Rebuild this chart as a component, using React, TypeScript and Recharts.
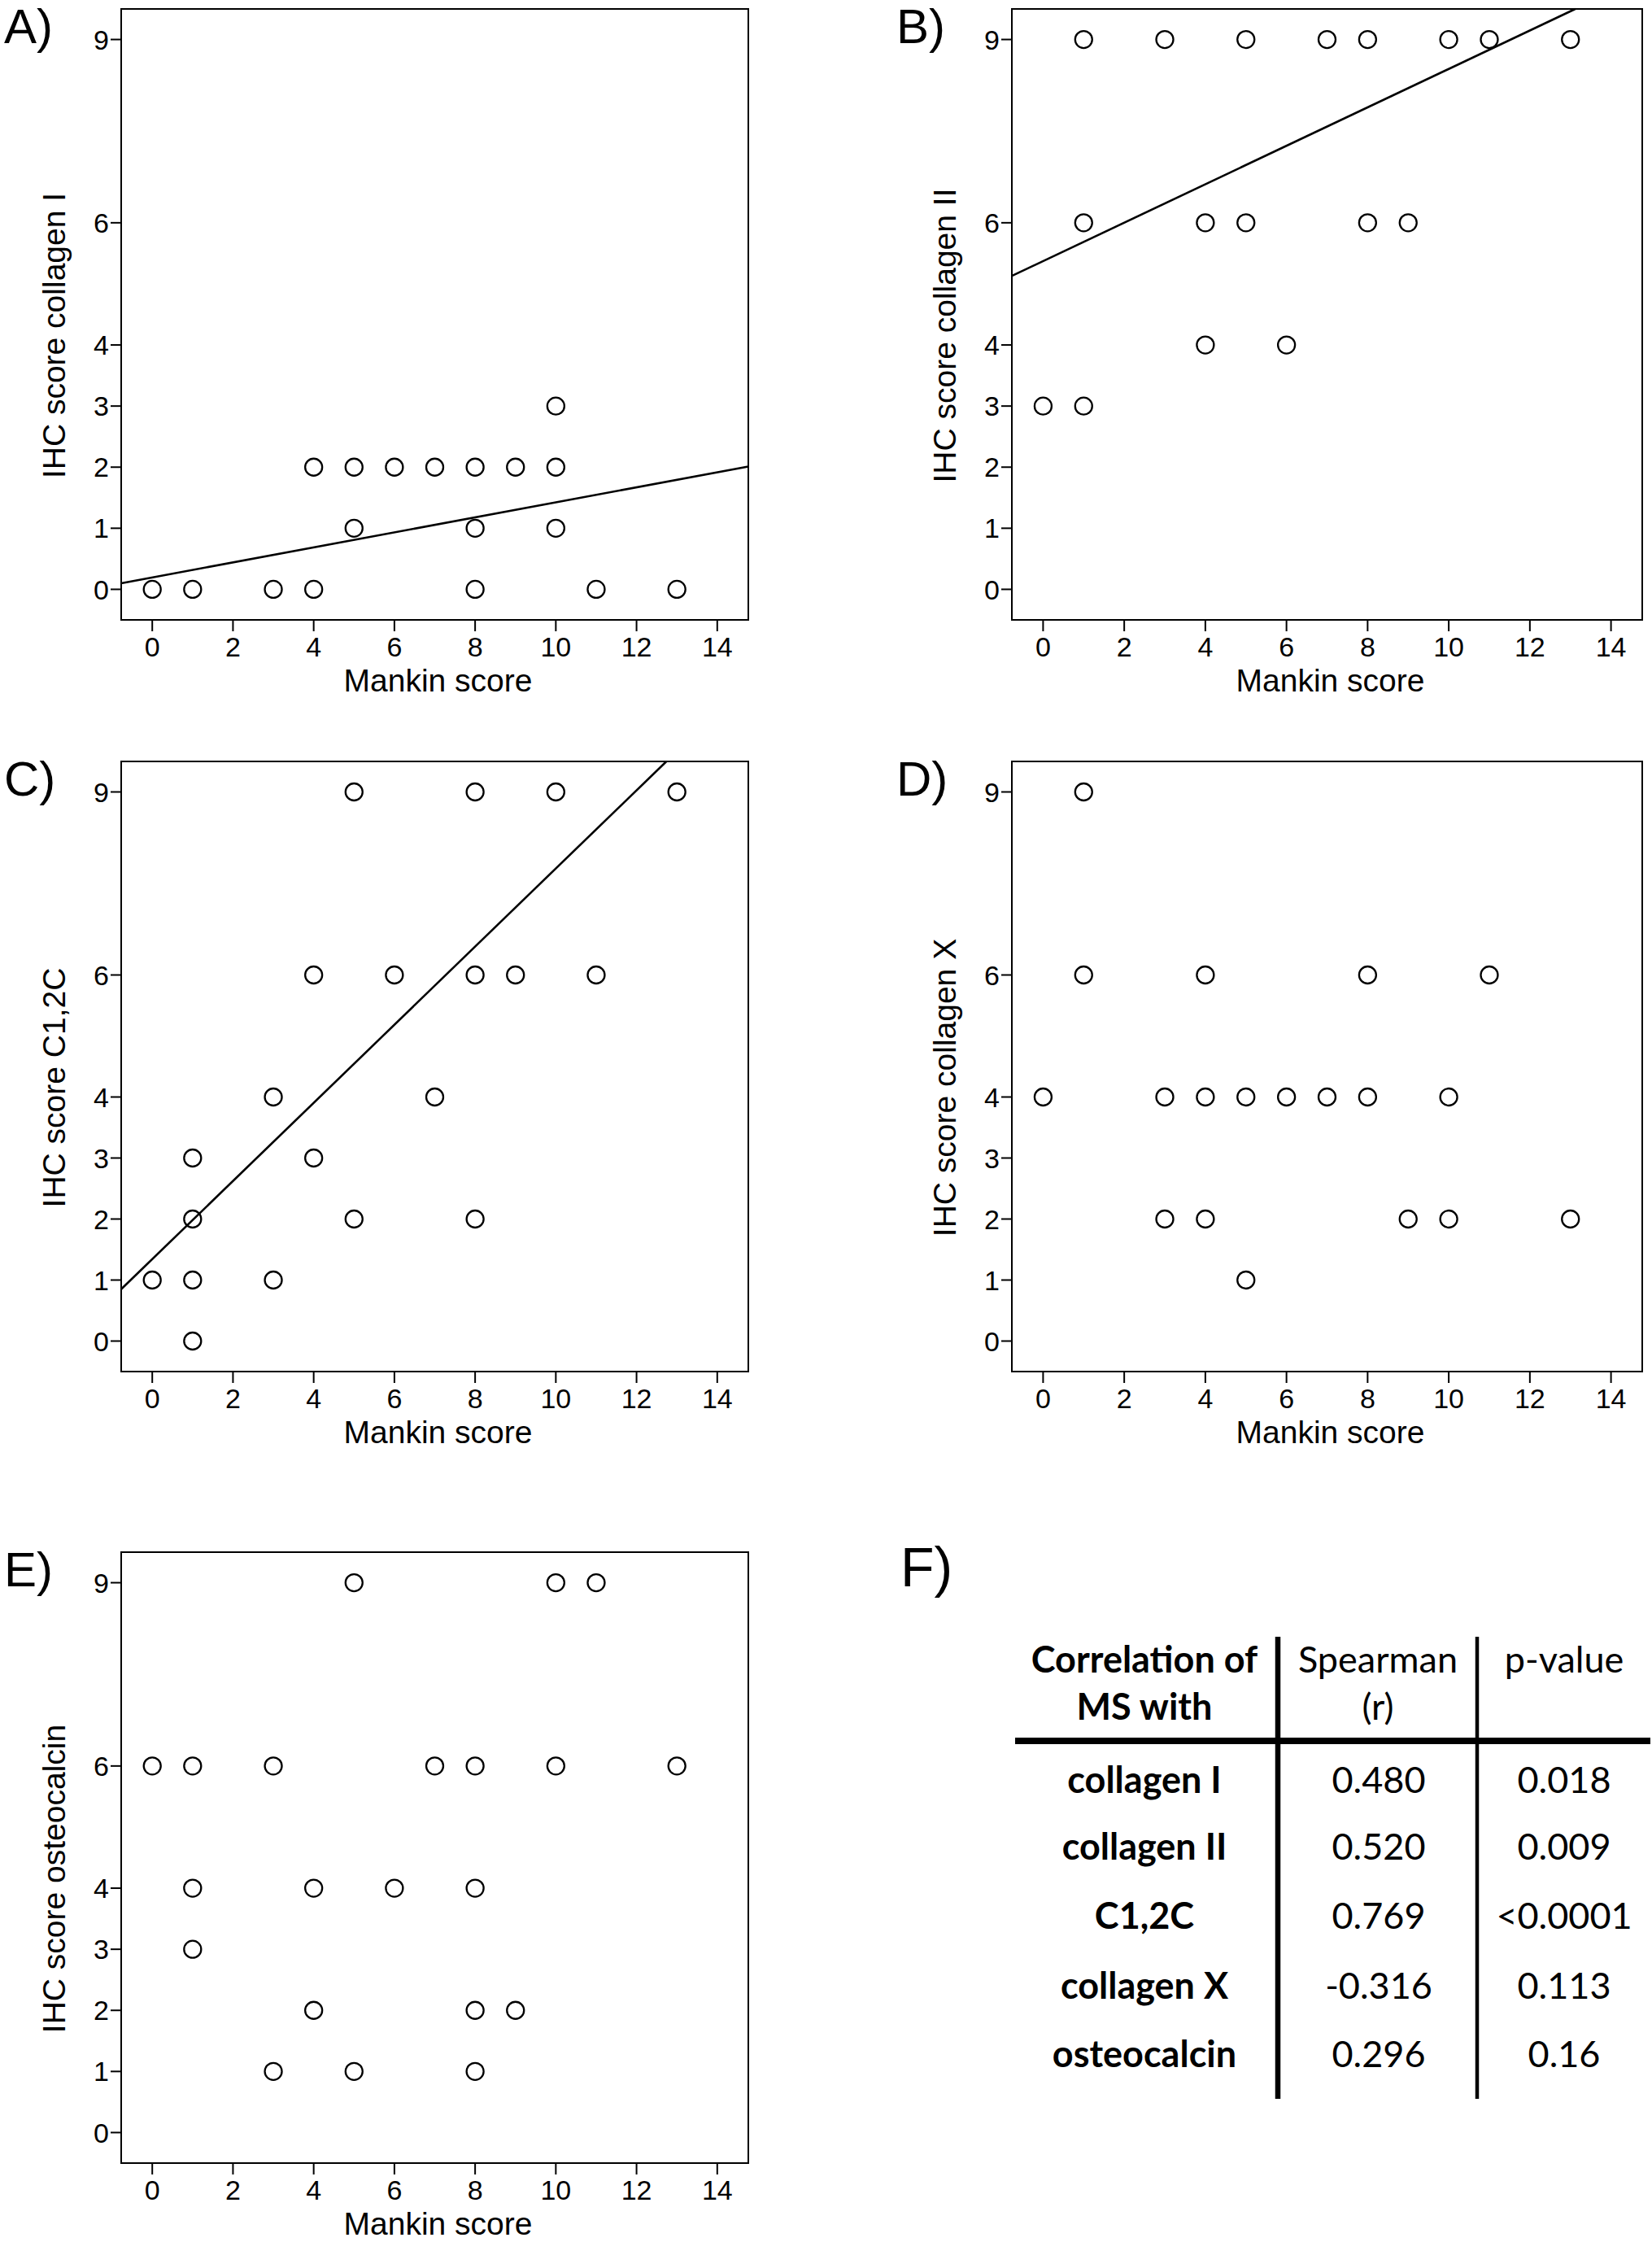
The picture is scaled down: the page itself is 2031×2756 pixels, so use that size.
import { ScatterChart, Scatter, XAxis, YAxis, ReferenceArea, ReferenceLine } from 'recharts';

// axes shared by all five panels
const mankinTicks = [0, 2, 4, 6, 8, 10, 12, 14];
const ihcTicks = [0, 1, 2, 3, 4, 6, 9];
const xDomain = [-0.77, 14.77];
const yDomain = [-0.5, 9.5];

// A) collagen I
const colIMankin = [0, 1, 3, 4, 8, 11, 13, 5, 8, 10, 4, 5, 6, 7, 8, 9, 10, 10];
const colIScore = [0, 0, 0, 0, 0, 0, 0, 1, 1, 1, 2, 2, 2, 2, 2, 2, 2, 3];
const colIFit = [{ x: -0.77, y: 0.1 }, { x: 14.77, y: 2.01 }];

// B) collagen II
const colIIMankin = [0, 1, 4, 6, 1, 4, 5, 8, 9, 1, 3, 5, 7, 8, 10, 11, 13];
const colIIScore = [3, 3, 4, 4, 6, 6, 6, 6, 6, 9, 9, 9, 9, 9, 9, 9, 9];
const colIIFit = [{ x: -0.77, y: 5.13 }, { x: 13.12, y: 9.5 }];

// C) C1,2C
const c12cMankin = [1, 0, 1, 3, 1, 5, 8, 1, 4, 3, 7, 4, 6, 8, 9, 11, 5, 8, 10, 13];
const c12cScore = [0, 1, 1, 1, 2, 2, 2, 3, 3, 4, 4, 6, 6, 6, 6, 6, 9, 9, 9, 9];
const c12cFit = [{ x: -0.77, y: 0.85 }, { x: 12.74, y: 9.5 }];

// D) collagen X
const colXMankin = [5, 3, 4, 9, 10, 13, 0, 3, 4, 5, 6, 7, 8, 10, 1, 4, 8, 11, 1];
const colXScore = [1, 2, 2, 2, 2, 2, 4, 4, 4, 4, 4, 4, 4, 4, 6, 6, 6, 6, 9];

// E) osteocalcin
const osteoMankin = [3, 5, 8, 4, 8, 9, 1, 1, 4, 6, 8, 0, 1, 3, 7, 8, 10, 13, 5, 10, 11];
const osteoScore = [1, 1, 1, 2, 2, 2, 3, 4, 4, 4, 4, 6, 6, 6, 6, 6, 6, 6, 9, 9, 9];

// F) table
const markers = ['collagen I', 'collagen II', 'C1,2C', 'collagen X', 'osteocalcin'];
const spearmanR = ['0.480', '0.520', '0.769', '-0.316', '0.296'];
const pValues = ['0.018', '0.009', '<0.0001', '0.113', '0.16'];

const FONT = '"Liberation Sans", Arial, Helvetica, sans-serif';
const TABLE_FONT = 'Lato, "Open Sans", sans-serif';
const TICK_PX = 34;

const zip = (xs: number[], ys: number[]) => xs.map((x, i) => ({ x, y: ys[i] }));

const Ring = (props: any) => (
  <circle cx={props.cx} cy={props.cy} r={10.5} fill="none" stroke="#000" strokeWidth={2.3} />
);

interface PanelProps {
  box: { l: number; r: number; t: number; b: number };
  points: { x: number; y: number }[];
  fit?: { x: number; y: number }[];
}

const Y_AXIS_W = 140;
const X_AXIS_H = 60;

const Panel = ({ box, points, fit }: PanelProps) => {
  const width = Y_AXIS_W + (box.r - box.l) + 12;
  const height = 11 + (box.b - box.t) + X_AXIS_H;
  return (
    <div style={{ position: 'absolute', left: box.l - Y_AXIS_W, top: box.t - 11, fontSize: TICK_PX, fontFamily: FONT }}>
      <ScatterChart
        width={width}
        height={height}
        margin={{ top: 11, right: 12, left: 0, bottom: 0 }}
        style={{ fontSize: TICK_PX, fontFamily: FONT }}
      >
        <XAxis
          type="number"
          dataKey="x"
          domain={xDomain}
          ticks={mankinTicks}
          allowDataOverflow
          interval={0}
          height={X_AXIS_H}
          tickSize={14}
          tickMargin={7}
          axisLine={{ stroke: '#000', strokeWidth: 2 }}
          tickLine={{ stroke: '#000', strokeWidth: 2 }}
          tick={{ fill: '#000', fontSize: TICK_PX }}
        />
        <YAxis
          type="number"
          dataKey="y"
          domain={yDomain}
          ticks={ihcTicks}
          allowDataOverflow
          interval={0}
          width={Y_AXIS_W}
          tickSize={13}
          tickMargin={2}
          axisLine={{ stroke: '#000', strokeWidth: 2 }}
          tickLine={{ stroke: '#000', strokeWidth: 2 }}
          tick={{ fill: '#000', fontSize: TICK_PX }}
        />
        <ReferenceArea
          x1={xDomain[0]}
          x2={xDomain[1]}
          y1={yDomain[0]}
          y2={yDomain[1]}
          fill="none"
          fillOpacity={0}
          stroke="#000"
          strokeWidth={2}
        />
        {fit && <ReferenceLine segment={fit} stroke="#000" strokeWidth={2.6} ifOverflow="visible" />}
        <Scatter data={points} shape={Ring} isAnimationActive={false} />
      </ScatterChart>
    </div>
  );
};

const panels = [
  { letter: 'A)', yLabel: 'IHC score collagen I', box: { l: 149, r: 920, t: 11, b: 762 }, points: zip(colIMankin, colIScore), fit: colIFit },
  { letter: 'B)', yLabel: 'IHC score collagen II', box: { l: 1244, r: 2019, t: 11, b: 762 }, points: zip(colIIMankin, colIIScore), fit: colIIFit },
  { letter: 'C)', yLabel: 'IHC score C1,2C', box: { l: 149, r: 920, t: 936, b: 1686 }, points: zip(c12cMankin, c12cScore), fit: c12cFit },
  { letter: 'D)', yLabel: 'IHC score collagen X', box: { l: 1244, r: 2019, t: 936, b: 1686 }, points: zip(colXMankin, colXScore) },
  { letter: 'E)', yLabel: 'IHC score osteocalcin', box: { l: 149, r: 920, t: 1908, b: 2659 }, points: zip(osteoMankin, osteoScore) },
];

const rowY = [2189, 2271, 2356, 2442, 2526];

const App = () => {
  return (
    <div style={{ position: 'absolute', left: 0, top: 0, width: 2031, height: 2756, background: '#fff', overflow: 'hidden' }}>
      {panels.map((p) => (
        <Panel key={p.letter} box={p.box} points={p.points} fit={p.fit} />
      ))}
      <svg width={2031} height={2756} style={{ position: 'absolute', left: 0, top: 0, pointerEvents: 'none' }}>
        {panels.map((p) => {
          const { l, r, t, b } = p.box;
          const cy = (t + b) / 2 + 26;
          const lx = l < 500 ? 5 : 1102;
          return (
            <g key={p.letter} fontFamily={FONT} fill="#000">
              <text x={lx} y={t + 42} fontSize={60}>{p.letter}</text>
              <text transform={`translate(${l - 69},${cy}) rotate(-90)`} textAnchor="middle" fontSize={39}>
                {p.yLabel}
              </text>
              <text x={(l + r) / 2 + 4} y={b + 88} textAnchor="middle" fontSize={39}>Mankin score</text>
            </g>
          );
        })}
        <text x={1107} y={1950} fontSize={68} fontFamily={FONT} fill="#000">F)</text>
        <g fontFamily={TABLE_FONT} fill="#000" fontSize={45}>
          <text x={1407} y={2056} textAnchor="middle" fontWeight={700}>Correlation of</text>
          <text x={1407} y={2114} textAnchor="middle" fontWeight={700}>MS with</text>
          <text x={1694} y={2056} textAnchor="middle">Spearman</text>
          <text x={1694} y={2114} textAnchor="middle">(r)</text>
          <text x={1923} y={2056} textAnchor="middle">p-value</text>
          {markers.map((m, i) => (
            <g key={m}>
              <text x={1407} y={rowY[i] + 15} textAnchor="middle" fontWeight={700}>{m}</text>
              <text x={1695} y={rowY[i] + 15} textAnchor="middle">{spearmanR[i]}</text>
              <text x={1923} y={rowY[i] + 15} textAnchor="middle">{pValues[i]}</text>
            </g>
          ))}
        </g>
        <line x1={1248} x2={2029} y1={2140} y2={2140} stroke="#000" strokeWidth={8} />
        <line x1={1571} x2={1571} y1={2012} y2={2580} stroke="#000" strokeWidth={6.5} />
        <line x1={1816} x2={1816} y1={2012} y2={2580} stroke="#000" strokeWidth={4.5} />
      </svg>
    </div>
  );
};

export default App;
